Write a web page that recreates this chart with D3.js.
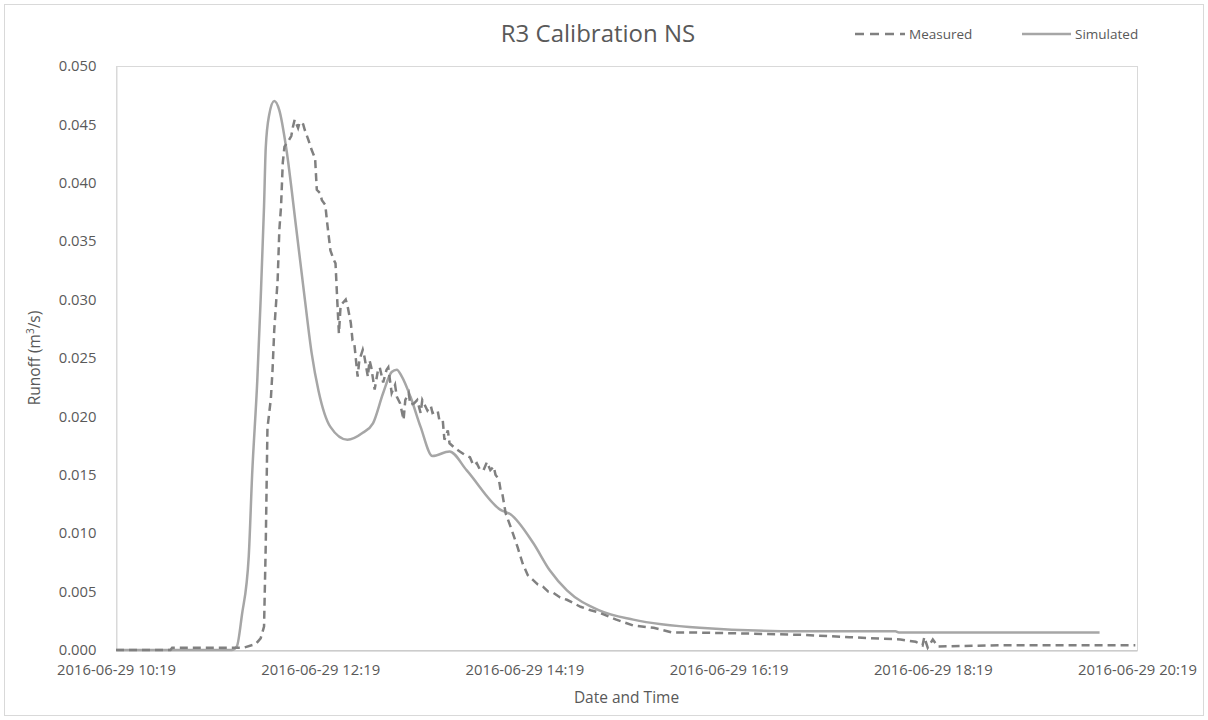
<!DOCTYPE html>
<html>
<head>
<meta charset="utf-8">
<script src="https://cdn.jsdelivr.net/npm/d3@7/dist/d3.min.js"></script>
<style>
  html, body { margin: 0; padding: 0; background: #ffffff; }
  svg { display: block; font-family: "Open Sans", "Liberation Sans", sans-serif; }
</style>
</head>
<body>
<svg id="chart" width="1208" height="720"></svg>
<script>
// Runoff event of 2016-06-29, catchment R3
const day = "2016-06-29";

// x-axis tick labels (every two hours)
const xTickLabels = ["10:19", "12:19", "14:19", "16:19", "18:19", "20:19"];
// y-axis ticks (m³/s)
const yTicks = [0, 0.005, 0.010, 0.015, 0.020, 0.025, 0.030, 0.035, 0.040, 0.045, 0.050];

// Measured runoff
const measuredTimes = [
  "10:19","10:51","10:52","11:34","11:41","11:44","11:46","11:47","11:48","11:50",
  "11:51","11:52","11:54","11:55","11:56","11:57","11:58","12:00","12:02","12:03",
  "12:04","12:06","12:07","12:09","12:10","12:12","12:14","12:16","12:17","12:19",
  "12:20","12:22","12:23","12:25","12:27","12:28","12:29","12:30","12:31","12:34",
  "12:35","12:37","12:38","12:39","12:41","12:42","12:44","12:45","12:47","12:48",
  "12:49","12:51","12:53","12:54","12:56","12:58","12:59","13:01","13:03","13:04",
  "13:06","13:08","13:09","13:11","13:12","13:14","13:16","13:18","13:19","13:21",
  "13:22","13:24","13:25","13:28","13:29","13:31","13:32","13:34","13:35","13:38",
  "13:41","13:44","13:47","13:49","13:51","13:53","13:55","13:57","13:59","14:01",
  "14:02","14:04","14:05","14:06","14:08","14:11","14:15","14:18","14:21","14:24",
  "14:27","14:30","14:33","14:36","14:40","14:44","14:48","14:52","14:58","15:03",
  "15:13","15:23","15:35","15:46","15:58","16:32","17:01","17:30","18:00","18:09",
  "18:13","18:14","18:16","18:19","18:22","18:59","20:18"
];
const measuredValues = [
  0.0000,0.0000,0.0002,0.0002,0.0005,0.0010,0.0020,0.0090,0.0190,0.0215,
  0.0240,0.0274,0.0317,0.0360,0.0380,0.0417,0.0431,0.0435,0.0440,0.0448,
  0.0454,0.0447,0.0452,0.0450,0.0445,0.0437,0.0428,0.0421,0.0394,0.0391,
  0.0385,0.0381,0.0367,0.0342,0.0334,0.0331,0.0300,0.0271,0.0295,0.0300,
  0.0295,0.0280,0.0265,0.0263,0.0234,0.0248,0.0257,0.0251,0.0234,0.0248,
  0.0242,0.0223,0.0240,0.0242,0.0229,0.0240,0.0242,0.0220,0.0227,0.0217,
  0.0211,0.0197,0.0214,0.0220,0.0210,0.0211,0.0214,0.0203,0.0214,0.0208,
  0.0205,0.0209,0.0203,0.0205,0.0197,0.0197,0.0180,0.0188,0.0177,0.0173,
  0.0170,0.0167,0.0165,0.0158,0.0160,0.0154,0.0154,0.0161,0.0154,0.0157,
  0.0150,0.0146,0.0137,0.0134,0.0117,0.0105,0.0088,0.0074,0.0064,0.0060,
  0.0056,0.0054,0.0050,0.0049,0.0045,0.0043,0.0040,0.0037,0.0034,0.0032,
  0.0026,0.0021,0.0019,0.0015,0.0015,0.0014,0.0013,0.0011,0.0009,0.0007,
  0.0004,0.0011,0.0002,0.0009,0.0003,0.0004,0.0004
];

// Simulated runoff
const simulatedTimes = [
  "10:19","11:27","11:30","11:33","11:37","11:39","11:42","11:44","11:46","11:47",
  "11:49","11:52","11:55","11:59","12:05","12:10","12:14","12:18","12:25","12:35",
  "12:44","12:50","12:56","13:01","13:04","13:07","13:12","13:18","13:25","13:35",
  "13:45","14:05","14:11","14:24","14:34","14:44","15:03","15:23","16:02","17:01",
  "17:57","17:59","19:57"
];
const simulatedValues = [
  0.0000,0.0000,0.0003,0.0030,0.0080,0.0150,0.0230,0.0300,0.0380,0.0430,
  0.0458,0.0470,0.0462,0.0430,0.0360,0.0300,0.0254,0.0222,0.0191,0.0180,
  0.0186,0.0194,0.0220,0.0238,0.0240,0.0234,0.0217,0.0191,0.0166,0.0170,
  0.0154,0.0120,0.0116,0.0092,0.0068,0.0051,0.0034,0.0026,0.0019,0.0016,
  0.0016,0.0015,0.0015
];

const parseTime = d3.timeParse("%Y-%m-%d %H:%M");
const toDate = t => parseTime(day + " " + t);

const measured = measuredTimes.map((t, i) => ({ t: toDate(t), v: measuredValues[i] }));
const simulated = simulatedTimes.map((t, i) => ({ t: toDate(t), v: simulatedValues[i] }));

const svg = d3.select("#chart");
const W = 1208, H = 720;
const plot = { left: 116, right: 1137, top: 66, bottom: 650 };

const textColor = "#595959";
const measuredColor = "#808080";
const simulatedColor = "#a6a6a6";

// chart frame
svg.append("rect")
  .attr("x", 4.5).attr("y", 4.5)
  .attr("width", W - 9).attr("height", H - 9)
  .attr("fill", "#ffffff")
  .attr("stroke", "#d9d9d9").attr("stroke-width", 1);

const x = d3.scaleTime()
  .domain([toDate(xTickLabels[0]), toDate(xTickLabels[xTickLabels.length - 1])])
  .range([plot.left, plot.right]);

const y = d3.scaleLinear()
  .domain([0, 0.05])
  .range([plot.bottom, plot.top]);

// plot area border
svg.append("rect")
  .attr("x", plot.left + 0.5).attr("y", plot.top + 0.5)
  .attr("width", plot.right - plot.left).attr("height", plot.bottom - plot.top)
  .attr("fill", "none")
  .attr("stroke", "#d9d9d9").attr("stroke-width", 1);

// x axis
const xAxis = d3.axisBottom(x)
  .tickValues(xTickLabels.map(toDate))
  .tickSize(0)
  .tickPadding(14)
  .tickFormat(d3.timeFormat("%Y-%m-%d %H:%M"));

const gx = svg.append("g")
  .attr("transform", `translate(0,${plot.bottom + 0.5})`)
  .call(xAxis);
gx.select(".domain").attr("stroke", "#bfbfbf");
gx.selectAll("text")
  .attr("fill", textColor)
  .attr("font-size", 14.8)
  .attr("font-family", "'Open Sans', sans-serif");

// y axis
const yAxis = d3.axisLeft(y)
  .tickValues(yTicks)
  .tickSize(0)
  .tickPadding(20)
  .tickFormat(d3.format(".3f"));

const gy = svg.append("g")
  .attr("transform", `translate(${plot.left + 0.5},0)`)
  .call(yAxis);
gy.select(".domain").attr("stroke", "#d9d9d9");
gy.selectAll("text")
  .attr("fill", textColor)
  .attr("font-size", 14.8)
  .attr("font-family", "'Open Sans', sans-serif");

// series
const line = d3.line()
  .x(d => x(d.t))
  .y(d => y(d.v));

svg.append("path")
  .datum(simulated)
  .attr("d", line.curve(d3.curveMonotoneX))
  .attr("fill", "none")
  .attr("stroke", simulatedColor)
  .attr("stroke-width", 2.5)
  .attr("stroke-linejoin", "round");

svg.append("path")
  .datum(measured)
  .attr("d", line.curve(d3.curveLinear))
  .attr("fill", "none")
  .attr("stroke", measuredColor)
  .attr("stroke-width", 2.5)
  .attr("stroke-dasharray", "8,5");

// title
svg.append("text")
  .attr("x", 598).attr("y", 42)
  .attr("text-anchor", "middle")
  .attr("fill", textColor)
  .attr("font-size", 24)
  .text("R3 Calibration NS");

// legend
const legend = svg.append("g").attr("transform", "translate(0,34)");
legend.append("line")
  .attr("x1", 855).attr("x2", 905).attr("y1", 0).attr("y2", 0)
  .attr("stroke", measuredColor).attr("stroke-width", 2.5)
  .attr("stroke-dasharray", "9,6");
legend.append("text")
  .attr("x", 909).attr("y", 5)
  .attr("fill", textColor).attr("font-size", 13.5)
  .text("Measured");
legend.append("line")
  .attr("x1", 1022).attr("x2", 1071).attr("y1", 0).attr("y2", 0)
  .attr("stroke", simulatedColor).attr("stroke-width", 2.5);
legend.append("text")
  .attr("x", 1075).attr("y", 5)
  .attr("fill", textColor).attr("font-size", 13.5)
  .text("Simulated");

// axis titles
svg.append("text")
  .attr("x", plot.left + (plot.right - plot.left) / 2)
  .attr("y", 703)
  .attr("text-anchor", "middle")
  .attr("fill", textColor)
  .attr("font-size", 15.5)
  .text("Date and Time");

const yTitle = svg.append("text")
  .attr("transform", `translate(40,${(plot.top + plot.bottom) / 2}) rotate(-90)`)
  .attr("text-anchor", "middle")
  .attr("fill", textColor)
  .attr("font-size", 15.5);
yTitle.append("tspan").text("Runoff (m");
yTitle.append("tspan").attr("font-size", 10).attr("dy", -6).text("3");
yTitle.append("tspan").attr("dy", 6).text("/s)");
</script>
</body>
</html>
